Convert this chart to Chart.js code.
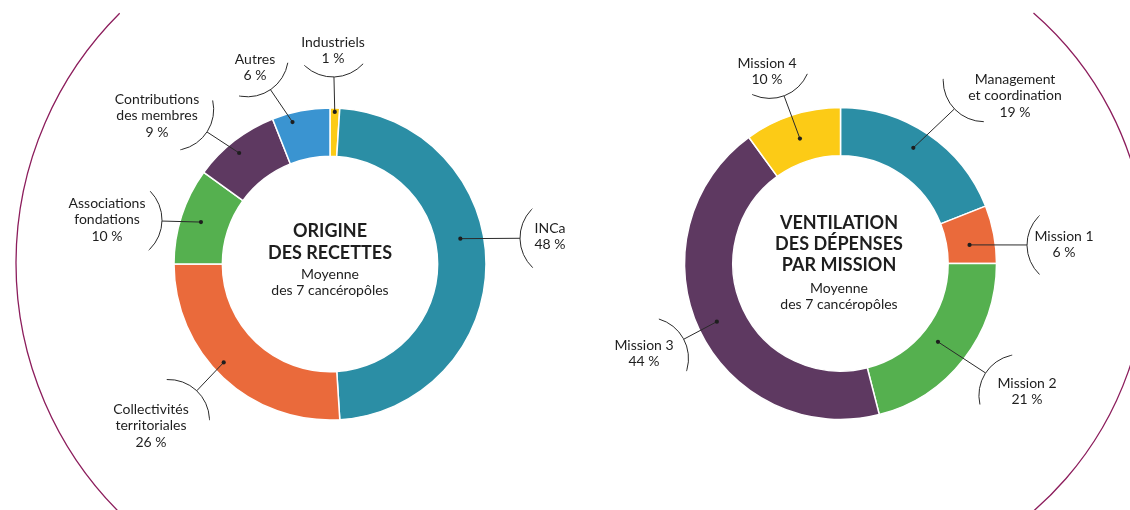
<!DOCTYPE html>
<html lang="fr">
<head>
<meta charset="UTF-8">
<title>Cancéropôles : recettes et dépenses</title>
<script src="https://cdn.jsdelivr.net/npm/chart.js@4.4.1/dist/chart.umd.min.js"></script>
<style>
  html, body { margin: 0; padding: 0; background: #fff; }
  #wrap { position: relative; width: 1130px; height: 510px; overflow: hidden; }
  canvas { position: absolute; top: 0; }
  #left { left: 0; }
  #right { left: 565px; }
</style>
</head>
<body>
<div id="wrap">
  <canvas id="left" width="565" height="510"></canvas>
  <canvas id="right" width="565" height="510"></canvas>
</div>
<script>
// origine des recettes (clockwise from the top)
const recettesLabels = [['Industriels'], ['INCa'], ['Collectivités', 'territoriales'], ['Associations', 'fondations'], ['Contributions', 'des membres'], ['Autres']];
const recettesValues = [1, 48, 26, 10, 9, 6];
const recettesColors = ['#fccb16', '#2b8ea5', '#ea6a3b', '#55b04f', '#5e3961', '#3a94d1'];

// ventilation des dépenses par mission
const depensesLabels = [['Management', 'et coordination'], ['Mission 1'], ['Mission 2'], ['Mission 3'], ['Mission 4']];
const depensesValues = [19, 6, 21, 44, 10];
const depensesColors = ['#2b8ea5', '#ea6a3b', '#55b04f', '#5e3961', '#fccb16'];

const recettesTitle = ['ORIGINE', 'DES RECETTES'];
const depensesTitle = ['VENTILATION', 'DES DÉPENSES', 'PAR MISSION'];
const subTitle = ['Moyenne', 'des 7 cancéropôles'];

const FONT = 'Lato, "Noto Sans", sans-serif';
const rad = d => d * Math.PI / 180;

// label placement: text centre, bracket centre, dot angle shift and depth in ring
const leftLayout = {
  frame: { x: 368.5, y: 263, r: 352.5, from: 225.1, to: 128, ccw: true },
  center: { x: 330, title: 231, titleStep: 22, sub: 274 },
  callouts: [
    { tx: 333, ty: 42, cx: 333, cy: 36, da: 0, dr: 0.92 },
    { tx: 550, ty: 228, cx: 561, cy: 238, da: -11, dr: 0.52 },
    { tx: 151, ty: 409, cx: 168.5, cy: 420.5, da: 4, dr: 0.77 },
    { tx: 107, ty: 203, cx: 121, cy: 220, da: 0, dr: 0.58 },
    { tx: 157, ty: 99, cx: 172.7, cy: 109.5, da: -1.5, dr: 0.74 },
    { tx: 255, ty: 59, cx: 247.4, cy: 55.8, da: -4, dr: 0.81 }
  ]
};
const rightLayout = {
  frame: { x: 252, y: 262, r: 330, from: -49, to: 55, ccw: false },
  center: { x: 274, title: 223, titleStep: 21, sub: 288 },
  callouts: [
    { tx: 450, ty: 79, cx: 419.2, cy: 80.7, da: -2, dr: 0.6 },
    { tx: 499, ty: 236, cx: 503, cy: 245, da: 2.6, dr: 0.47 },
    { tx: 462, ty: 383, cx: 454.9, cy: 395.4, da: 1, dr: 0.36 },
    { tx: 79, ty: 345, cx: 82.5, cy: 358.4, da: 0, dr: 0.6 },
    { tx: 202, ty: 63, cx: 204.8, cy: 57.4, da: 0, dr: 0.49 }
  ]
};

function makeCallouts(layout, title) {
  return {
    id: 'callouts',
    afterDraw(chart) {
      const ctx = chart.ctx;
      const meta = chart.getDatasetMeta(0);
      const values = chart.data.datasets[0].data;
      ctx.save();

      // big surrounding arc
      const f = layout.frame;
      ctx.strokeStyle = '#8c1d5c';
      ctx.lineWidth = 1.3;
      ctx.beginPath();
      ctx.arc(f.x, f.y, f.r, rad(f.from), rad(f.to), f.ccw);
      ctx.stroke();

      // centre text
      const c = layout.center;
      ctx.fillStyle = '#1e1e1e';
      ctx.textAlign = 'center';
      ctx.textBaseline = 'middle';
      ctx.font = 'bold 18px ' + FONT;
      title.forEach((t, k) => ctx.fillText(t, c.x, c.title + k * c.titleStep));
      ctx.font = '14px ' + FONT;
      subTitle.forEach((t, k) => ctx.fillText(t, c.x, c.sub + k * 16.5));

      // callouts
      const R = 41, span = rad(46);
      meta.data.forEach((arc, i) => {
        const o = layout.callouts[i];
        const a = (arc.startAngle + arc.endAngle) / 2 + rad(o.da);
        const r = arc.innerRadius + o.dr * (arc.outerRadius - arc.innerRadius);
        const px = arc.x + r * Math.cos(a);
        const py = arc.y + r * Math.sin(a);
        const th = Math.atan2(py - o.cy, px - o.cx);

        ctx.strokeStyle = '#2a2a2a';
        ctx.lineWidth = 1;
        ctx.beginPath();
        ctx.arc(o.cx, o.cy, R, th - span, th + span);
        ctx.stroke();
        ctx.beginPath();
        ctx.moveTo(o.cx + R * Math.cos(th), o.cy + R * Math.sin(th));
        ctx.lineTo(px, py);
        ctx.stroke();
        ctx.fillStyle = '#1e1e1e';
        ctx.beginPath();
        ctx.arc(px, py, 2.1, 0, Math.PI * 2);
        ctx.fill();

        ctx.font = '14px ' + FONT;
        const lines = chart.data.labels[i].concat([values[i] + '\u00a0%']);
        lines.forEach((t, k) => ctx.fillText(t, o.tx, o.ty + k * 16.5));
      });
      ctx.restore();
    }
  };
}

function drawDonut(id, labels, values, colors, padding, layout, title) {
  new Chart(document.getElementById(id), {
    type: 'doughnut',
    data: {
      labels,
      datasets: [{
        data: values,
        backgroundColor: colors,
        borderColor: '#ffffff',
        borderWidth: 1.5
      }]
    },
    options: {
      responsive: false,
      animation: false,
      events: [],
      radius: 156,
      cutout: '69%',
      layout: { padding },
      plugins: {
        legend: { display: false },
        tooltip: { enabled: false }
      }
    },
    plugins: [makeCallouts(layout, title)]
  });
}

drawDonut('left', recettesLabels, recettesValues, recettesColors,
  { left: 174, right: 79, top: 108, bottom: 90 }, leftLayout, recettesTitle);
drawDonut('right', depensesLabels, depensesValues, depensesColors,
  { left: 119.5, right: 133.5, top: 107.5, bottom: 90.5 }, rightLayout, depensesTitle);
</script>
</body>
</html>
